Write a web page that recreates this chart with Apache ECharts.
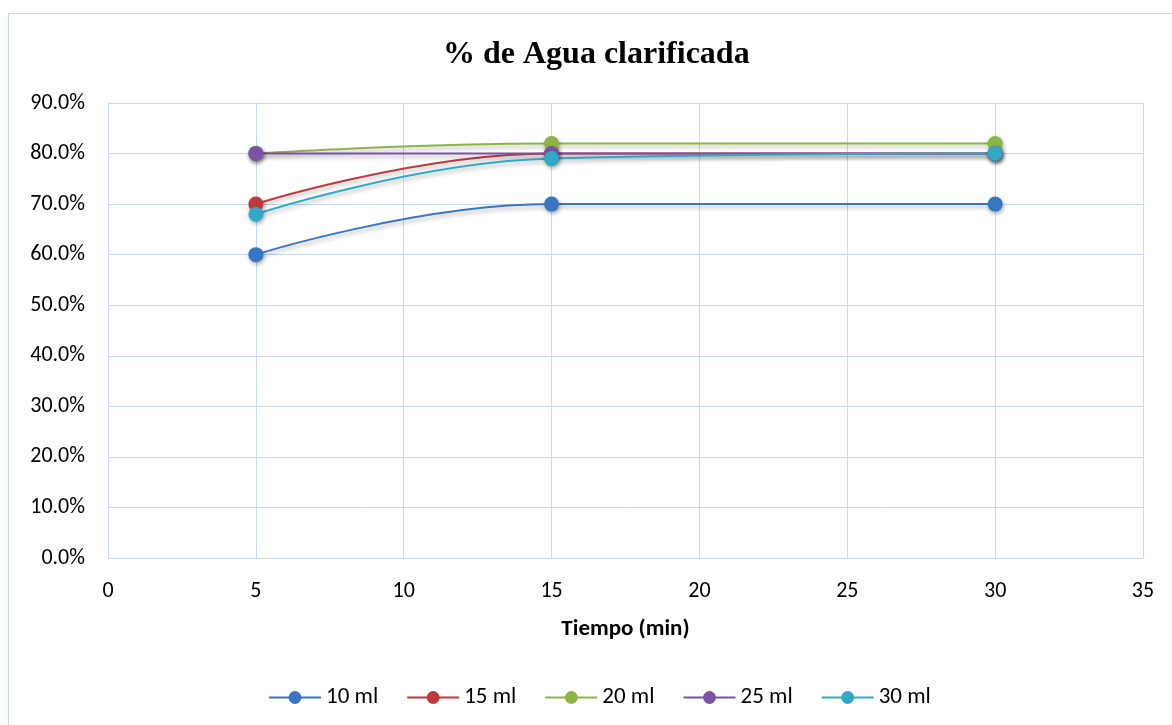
<!DOCTYPE html>
<html><head><meta charset="utf-8">
<script src="https://cdn.jsdelivr.net/npm/echarts@6/dist/echarts.min.js"></script>
<style>html,body{margin:0;padding:0;background:#fff}#c{width:1172px;height:725px}
#frame{position:absolute;left:8px;top:13px;width:1180px;height:730px;border:1px solid #c6d9f0;pointer-events:none}</style>
</head><body><div id="c"></div><div id="frame"></div>
<script>
const times = [5, 15, 30];
const seriesNames = ['10 ml', '15 ml', '20 ml', '25 ml', '30 ml'];
const v10 = [60, 70, 70];
const v15 = [70, 80, 80];
const v20 = [80, 82, 82];
const v25 = [80, 80, 80];
const v30 = [68, 79, 80];
const xTicks = [0, 5, 10, 15, 20, 25, 30, 35];
const colors = ['#3a75c4', '#c0393b', '#8db545', '#7a53a5', '#31a9c6'];
const allVals = [v10, v15, v20, v25, v30];

const chart = echarts.init(document.getElementById('c'));
const font = 'Carlito, "Open Sans", "Noto Sans", sans-serif';
chart.setOption({
  animation: false,
  title: { text: '% de Agua clarificada', left: 438, top: 34,
    textStyle: { fontFamily: '"Liberation Serif", "DejaVu Serif", serif', fontWeight: 'bold', fontSize: 32, color: '#000' } },
  grid: { left: 108, right: 29, top: 103, bottom: 167 },
  xAxis: { type: 'value', min: 0, max: 35, interval: 5,
    name: 'Tiempo (min)', nameLocation: 'middle', nameGap: 60,
    nameTextStyle: { fontFamily: font, fontWeight: 'bold', fontSize: 23, color: '#000' },
    axisLine: { lineStyle: { color: '#c6d9f0' } }, axisTick: { show: false },
    axisLabel: { fontFamily: font, fontSize: 22, color: '#000', margin: 22 },
    splitLine: { lineStyle: { color: '#c6d9f0' } } },
  yAxis: { type: 'value', min: 0, max: 90, interval: 10,
    axisLine: { show: true, lineStyle: { color: '#c6d9f0' } }, axisTick: { show: false },
    axisLabel: { fontFamily: font, fontSize: 22, color: '#000', margin: 23, formatter: v => v.toFixed(1) + '%' },
    splitLine: { lineStyle: { color: '#c6d9f0' } } },
  legend: { bottom: 11, left: 263, itemWidth: 52, itemHeight: 16, itemGap: 28,
    textStyle: { fontFamily: font, fontSize: 23, color: '#000' },
    data: seriesNames },
  series: seriesNames.map((n, i) => ({
    name: n, type: 'line', smooth: 0.45,
    data: times.map((t, j) => [t, allVals[i][j]]),
    symbol: 'circle', symbolSize: 15,
    itemStyle: { color: colors[i], shadowColor: 'rgba(0,0,0,0.35)', shadowBlur: 4, shadowOffsetX: 1, shadowOffsetY: 2 },
    lineStyle: { width: 2, color: colors[i], shadowColor: 'rgba(0,0,0,0.3)', shadowBlur: 4, shadowOffsetY: 3 }
  }))
});
</script></body></html>
